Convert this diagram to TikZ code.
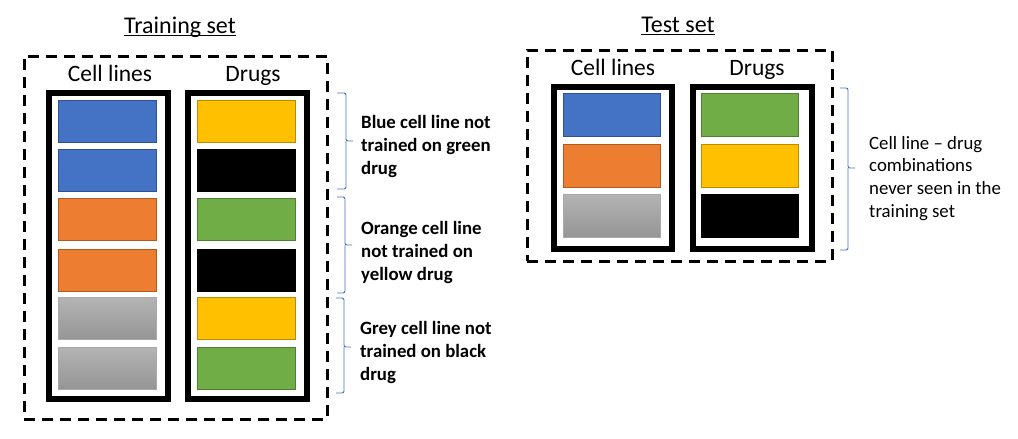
\documentclass[tikz,border=0pt]{standalone}
\usepackage{fontspec}
\setmainfont{Carlito}
\definecolor{cblue}{HTML}{4472C4}
\definecolor{cblueD}{HTML}{2F528F}
\definecolor{corange}{HTML}{ED7D31}
\definecolor{corangeD}{HTML}{AE5A21}
\definecolor{cyellow}{HTML}{FFC000}
\definecolor{cyellowD}{HTML}{BC8C00}
\definecolor{cgreen}{HTML}{70AD47}
\definecolor{cgreenD}{HTML}{507E32}
\definecolor{cgreyT}{HTML}{B4B4B4}
\definecolor{cgreyB}{HTML}{959595}
\definecolor{cgreyD}{HTML}{A9A9A9}
\definecolor{bracecol}{HTML}{4472C4}
\tikzset{
  swatch/.style={minimum width=98pt, minimum height=42pt, inner sep=0pt, outer sep=0pt, line width=1pt, draw},
  sblue/.style={swatch, fill=cblue, draw=cblueD},
  sorange/.style={swatch, fill=corange, draw=corangeD},
  syellow/.style={swatch, fill=cyellow, draw=cyellowD},
  sgreen/.style={swatch, fill=cgreen, draw=cgreenD},
  sblack/.style={swatch, fill=black, draw=black},
  sgrey/.style={swatch, top color=cgreyT, bottom color=cgreyB, draw=cgreyD},
  column/.style={draw=black, line width=6pt, inner sep=0pt, outer sep=0pt},
  setbox/.style={draw=black, line width=3pt, dash pattern=on 11pt off 7pt, inner sep=0pt, outer sep=0pt},
  title/.style={font=\fontsize{24}{29}\selectfont, inner sep=0pt, anchor=base},
  header/.style={font=\fontsize{23.5}{28}\selectfont, inner sep=0pt, anchor=base},
  note/.style={font=\fontsize{18.8}{23}\selectfont\bfseries, inner sep=0pt, anchor=north west, align=left},
  plainnote/.style={font=\fontsize{18.8}{22.6}\selectfont, inner sep=0pt, anchor=north west, align=left},
  brace/.style={draw=bracecol, line width=0.9pt, rounded corners=2pt},
}
\newcommand\drawbrace[5]{% x0 spine tip top bottom mid
  \draw[brace] (#1,#4) -| (#2,#5) -- (#3,#5);
}
\begin{document}
\begin{tikzpicture}[x=1pt,y=-1pt]
\useasboundingbox (0,0) rectangle (1018,439);

% ---------- Training set ----------
\node[setbox, minimum width=303pt, minimum height=363pt] (trainbox) at (175.5,237.5) {};
\node[title] (traintitle) at (180,33) {Training set};
\draw[line width=1.3pt] ([yshift=-2.5pt]traintitle.base west) -- ([yshift=-2.5pt]traintitle.base east);
\node[header] (trcl) at (110,81) {Cell lines};
\node[header] (trdr) at (253,81) {Drugs};
\node[column, minimum width=119pt, minimum height=306pt] (trcellcol) at (108.5,246) {};
\node[column, minimum width=119pt, minimum height=306pt] (trdrugcol) at (247.5,246) {};

\node[sblue]   (c1) at (107,121) {};
\node[sblue]   (c2) at (107,170.5) {};
\node[sorange] (c3) at (107,219.5) {};
\node[sorange] (c4) at (107,270) {};
\node[sgrey]   (c5) at (107,318.5) {};
\node[sgrey]   (c6) at (107,368) {};

\node[syellow] (d1) at (246,121) {};
\node[sblack]  (d2) at (246,170.5) {};
\node[sgreen]  (d3) at (246,219.5) {};
\node[sblack]  (d4) at (246,270) {};
\node[syellow] (d5) at (246,318.5) {};
\node[sgreen]  (d6) at (246,368) {};

% braces
\draw[brace] (337,93) -| (346,141) -- (353,141);
\draw[brace] (346,141) |- (337,189);
\draw[brace] (337,197) -| (345,245) -- (352,245);
\draw[brace] (345,245) |- (337,293);
\draw[brace] (336,298) -| (344,347) -- (351,347);
\draw[brace] (344,347) |- (336,393);

\node[note] (n1) at (361,115) {Blue cell line not\\trained on green\\drug};
\node[note] (n2) at (361,221) {Orange cell line\\not trained on\\yellow drug};
\node[note] (n3) at (360,321) {Grey cell line not\\trained on black\\drug};

% ---------- Test set ----------
\node[setbox, minimum width=305pt, minimum height=211pt] (testbox) at (679.5,155.5) {};
\node[title] (testtitle) at (678,32) {Test set};
\draw[line width=1.3pt] ([yshift=-2.5pt]testtitle.base west) -- ([yshift=-2.5pt]testtitle.base east);
\node[header] (tecl) at (613,75) {Cell lines};
\node[header] (tedr) at (757,75) {Drugs};
\node[column, minimum width=118pt, minimum height=162pt] (tecellcol) at (613,168) {};
\node[column, minimum width=119pt, minimum height=162pt] (tedrugcol) at (752.5,168) {};

\node[sblue, minimum width=97pt, minimum height=43pt]   (tc1) at (611.5,114.5) {};
\node[sorange, minimum width=97pt, minimum height=43pt] (tc2) at (611.5,165.5) {};
\node[sgrey, minimum width=97pt, minimum height=43pt]   (tc3) at (611.5,215.5) {};
\node[sgreen, minimum width=97pt, minimum height=43pt]  (td1) at (749.5,114.5) {};
\node[syellow, minimum width=97pt, minimum height=43pt] (td2) at (749.5,165.5) {};
\node[sblack, minimum width=97pt, minimum height=43pt]  (td3) at (749.5,215.5) {};

\draw[brace] (840,88) -| (848,168) -- (855,168);
\draw[brace] (848,168) |- (840,250);

\node[plainnote] (n4) at (869,136) {Cell line -- drug\\combinations\\never seen in the\\training set};
\end{tikzpicture}
\end{document}
